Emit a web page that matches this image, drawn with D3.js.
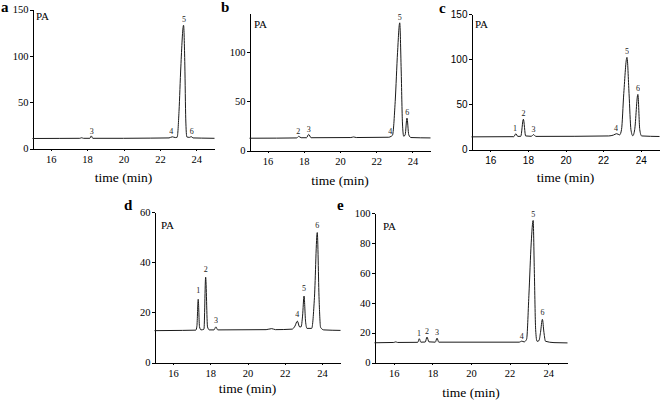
<!DOCTYPE html>
<html>
<head>
<meta charset="utf-8">
<script src="https://cdn.jsdelivr.net/npm/d3@7"></script>
<style>
  body { margin: 0; background: #fff; }
  svg { display: block; }
  svg text { opacity: 0.999; }
  .axis path, .axis line { stroke: #000; stroke-width: 1; shape-rendering: crispEdges; }
  .serif, .axis text { font-family: "Times New Roman", "Liberation Serif", "DejaVu Serif", serif; }
  .axis text { font-size: 10.5px; fill: #000; }
  .axis.sans text { font-family: "Liberation Sans", Arial, sans-serif; font-size: 10px; }
  .trace { fill: none; stroke: #1a1a1a; stroke-width: 1; }
  .peak-label { font-size: 8px; fill: #222; text-anchor: middle; }
  .pa { font-size: 11px; fill: #000; }
  .letter { font-size: 15px; font-weight: bold; fill: #000; }
  .xtitle { font-size: 13.5px; fill: #000; text-anchor: middle; }
</style>
</head>
<body>
<svg id="chart" width="661" height="400"></svg>
<script>
// retention time ticks shared by all panels
const xTicks = [16, 18, 20, 22, 24];

const yTicksA = [0, 50, 100, 150];
const yTicksB = [0, 50, 100];
const yTicksC = [0, 50, 100, 150];
const yTicksD = [0, 20, 40, 60];
const yTicksE = [0, 20, 40, 60, 80, 100];

// chromatogram traces: [time (min), signal (PA)]
const traceA = [
  [15, 10.8], [16.5, 10.9], [17.6, 11.0], [17.7, 11.6], [17.8, 11.0], [18.15, 11.0],
  [18.23, 13.6], [18.31, 11.0], [20, 11.0], [21.5, 11.2], [22.5, 11.4], [22.68, 12.6],
  [22.85, 11.8], [22.95, 12.2], [23.05, 40], [23.15, 88], [23.3, 133], [23.37, 90],
  [23.42, 32], [23.48, 12.5], [23.62, 12.0], [23.72, 12.8], [23.82, 11.4], [24.3, 11.2], [25, 11.0]
];
const traceB = [
  [15, 12.5], [16.5, 12.6], [17.6, 12.8], [17.72, 14.4], [17.85, 13.0], [18.15, 13.0],
  [18.27, 16.4], [18.4, 13.0], [20.6, 13.2], [20.75, 13.8], [20.9, 13.2], [22.7, 13.5],
  [22.82, 14.4], [22.9, 15.5], [23.05, 50], [23.18, 100], [23.3, 130], [23.38, 82],
  [23.45, 28], [23.52, 14.5], [23.6, 16], [23.7, 33], [23.8, 16], [23.92, 13.2], [25, 12.8]
];
const traceC = [
  [15, 14.0], [17.25, 14.2], [17.36, 17.5], [17.46, 14.5], [17.62, 14.6], [17.76, 33.5],
  [17.88, 15.0], [18.18, 14.6], [18.3, 16.5], [18.42, 14.5], [20.5, 14.6], [22.3, 15.0],
  [22.55, 16.0], [22.72, 17.5], [22.88, 16.2], [22.98, 22], [23.1, 62], [23.27, 102],
  [23.38, 62], [23.48, 22], [23.58, 15.2], [23.68, 22], [23.85, 61], [23.95, 22],
  [24.05, 15.0], [25, 14.4]
];
const traceD = [
  [15, 12.7], [16.5, 12.8], [17.22, 12.9], [17.28, 14.5], [17.35, 25.2], [17.42, 14.2],
  [17.5, 13.0], [17.66, 13.3], [17.75, 34], [17.85, 14.2], [17.95, 13.0], [18.2, 13.0],
  [18.3, 14.2], [18.4, 13.0], [21.0, 13.1], [21.3, 13.5], [21.5, 13.1], [22.4, 13.3],
  [22.55, 14.5], [22.68, 16.5], [22.8, 14.2], [22.88, 14.2], [22.96, 18.5], [23.04, 26.5],
  [23.12, 16.5], [23.2, 13.6], [23.45, 13.6], [23.6, 26], [23.75, 51.8], [23.85, 25],
  [23.93, 14.0], [24.1, 13.0], [25, 12.8]
];
const traceE = [
  [15, 13.2], [16.0, 13.4], [16.1, 13.8], [16.2, 13.4], [17.24, 13.5], [17.32, 15.9],
  [17.4, 13.6], [17.63, 13.7], [17.72, 17.0], [17.82, 13.8], [18.15, 13.6], [18.24, 16.3],
  [18.33, 13.6], [22.5, 13.6], [22.63, 14.3], [22.75, 13.8], [22.88, 15.5], [23.0, 45],
  [23.12, 80], [23.22, 95], [23.28, 62], [23.35, 22], [23.42, 14.2], [23.52, 14.6],
  [23.6, 20], [23.7, 28.9], [23.78, 20], [23.86, 14.2], [24.3, 13.3], [25, 13.1]
];

// peak numbers: [label, time, signal at label foot]
const labelsA = [["3", 18.25, 14.5], ["4", 22.62, 13.5], ["5", 23.33, 135], ["6", 23.75, 13.5]];
const labelsB = [["2", 17.7, 15.5], ["3", 18.28, 17.5], ["4", 22.78, 15.5], ["5", 23.3, 131], ["6", 23.72, 34.5]];
const labelsC = [["1", 17.32, 18.5], ["2", 17.76, 35], ["3", 18.3, 17.5], ["4", 22.68, 19], ["5", 23.27, 104], ["6", 23.85, 63]];
const labelsD = [["1", 17.35, 27], ["2", 17.75, 35.5], ["3", 18.3, 15.2], ["4", 22.68, 17.5], ["5", 23.04, 28], ["6", 23.75, 53.2]];
const labelsE = [["1", 17.3, 17], ["2", 17.72, 18], ["3", 18.24, 17.3], ["4", 22.63, 15], ["5", 23.22, 96.5], ["6", 23.7, 30.5]];

const panels = [
  { letter: "a", trace: traceA, labels: labelsA, yTicks: yTicksA, yMax: 150,
    left: 32.5, right: 214.5, bottom: 148.5, top: 9.5, letterAt: [1, 12], paAt: [36, 20], titleDy: 33 },
  { letter: "b", trace: traceB, labels: labelsB, yTicks: yTicksB, yMax: 140,
    left: 249.5, right: 430.5, bottom: 150.5, top: 13, letterAt: [221, 12], paAt: [254, 28], titleDy: 34 },
  { letter: "c", trace: traceC, labels: labelsC, yTicks: yTicksC, yMax: 150, sans: true,
    left: 471.5, right: 659.5, bottom: 149.5, top: 14, letterAt: [439, 13], paAt: [475, 28], titleDy: 32 },
  { letter: "d", trace: traceD, labels: labelsD, yTicks: yTicksD, yMax: 60,
    left: 154.5, right: 340.5, bottom: 362.5, top: 212, letterAt: [124, 210], paAt: [161, 229], titleDy: 30 },
  { letter: "e", trace: traceE, labels: labelsE, yTicks: yTicksE, yMax: 100,
    left: 374.5, right: 567.5, bottom: 362.5, top: 213, letterAt: [337, 210], paAt: [383, 230], titleDy: 34 },
];

const svg = d3.select("#chart");

panels.forEach((p) => {
  const g = svg.append("g").attr("class", `panel panel-${p.letter}`);

  const x = d3.scaleLinear().domain([15, 25]).range([p.left, p.right]);
  const y = d3.scaleLinear().domain([0, p.yMax]).range([p.bottom, p.top]);

  g.append("g")
    .attr("class", "axis x-axis" + (p.sans ? " sans" : ""))
    .attr("transform", `translate(0, ${p.bottom})`)
    .call(d3.axisBottom(x).tickValues(xTicks).tickSize(2).tickSizeOuter(0).tickPadding(5))
    .attr("font-family", null)
    .attr("font-size", null);

  g.append("g")
    .attr("class", "axis y-axis" + (p.sans ? " sans" : ""))
    .attr("transform", `translate(${p.left}, 0)`)
    .call(d3.axisLeft(y).tickValues(p.yTicks).tickSize(3).tickSizeOuter(0).tickPadding(1))
    .attr("font-family", null)
    .attr("font-size", null);

  const line = d3.line()
    .x((d) => x(d[0]))
    .y((d) => y(d[1]))
    .curve(d3.curveMonotoneX);

  g.append("path")
    .datum(p.trace)
    .attr("class", "trace")
    .attr("d", line);

  g.selectAll(".peak-label")
    .data(p.labels)
    .join("text")
    .attr("class", "peak-label serif")
    .attr("x", (d) => x(d[1]))
    .attr("y", (d) => y(d[2]) - 1.5)
    .text((d) => d[0]);

  g.append("text")
    .attr("class", "pa serif")
    .attr("x", p.paAt[0])
    .attr("y", p.paAt[1])
    .text("PA");

  g.append("text")
    .attr("class", "letter serif")
    .attr("x", p.letterAt[0])
    .attr("y", p.letterAt[1])
    .text(p.letter);

  g.append("text")
    .attr("class", "xtitle serif")
    .attr("x", (p.left + p.right) / 2)
    .attr("y", p.bottom + p.titleDy)
    .text("time (min)");
});
</script>
</body>
</html>
